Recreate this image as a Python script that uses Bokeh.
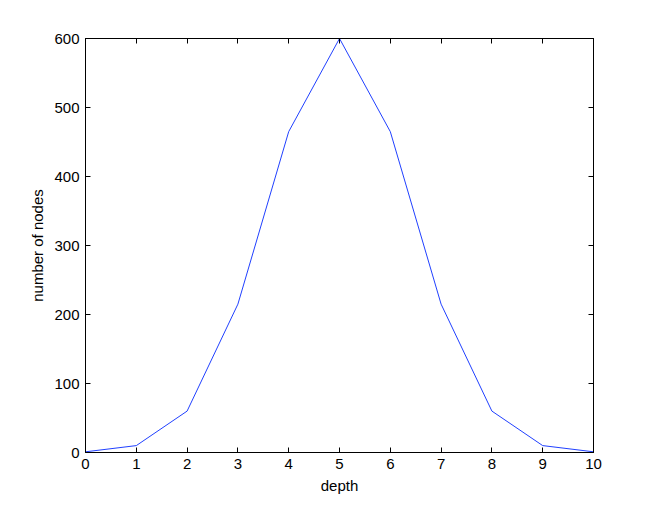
from bokeh.plotting import figure
from bokeh.models import LinearAxis, FixedTicker, Range1d
from bokeh.embed import file_html
from bokeh.resources import INLINE

depth = [0, 1, 2, 3, 4, 5, 6, 7, 8, 9, 10]
nodes = [1, 10, 60, 215, 465, 600, 465, 215, 60, 10, 1]
x_ticks = [0, 1, 2, 3, 4, 5, 6, 7, 8, 9, 10]
y_ticks = [0, 100, 200, 300, 400, 500, 600]

FONT = "Liberation Sans"

p = figure(width=646, height=501, output_backend="svg", toolbar_location=None,
           x_range=Range1d(0, 10), y_range=Range1d(0, 600),
           x_axis_location=None, y_axis_location=None,
           min_border_left=85, min_border_right=53, min_border_top=38, min_border_bottom=49)
p.grid.visible = False
p.outline_line_color = "black"
p.outline_line_width = 1
p.background_fill_color = "white"
p.border_fill_color = "white"

def mk_axis(ticks, labels=True, label=None):
    ax = LinearAxis(ticker=FixedTicker(ticks=ticks))
    ax.major_tick_in = 5
    ax.major_tick_out = 0
    ax.minor_tick_line_color = None
    ax.axis_line_color = "black"
    ax.major_tick_line_color = "black"
    ax.major_label_text_font = FONT
    ax.major_label_text_font_size = "15px"
    ax.major_label_text_color = "black"
    ax.major_label_standoff = 6
    if not labels:
        ax.major_label_text_font_size = "0px"
        ax.major_label_text_alpha = 0
    if label:
        ax.axis_label = label
        ax.axis_label_text_font = FONT
        ax.axis_label_text_font_size = "15px"
        ax.axis_label_text_font_style = "normal"
        ax.axis_label_text_color = "black"
        ax.axis_label_standoff = 5
    return ax

p.add_layout(mk_axis(x_ticks, True, "depth"), "below")
p.add_layout(mk_axis(y_ticks, True, "number of nodes"), "left")
p.add_layout(mk_axis(x_ticks, False), "above")
p.add_layout(mk_axis(y_ticks, False), "right")

p.line(depth, nodes, line_color="#2040ff", line_width=1)

open("out.html", "w").write(file_html(p, INLINE))
